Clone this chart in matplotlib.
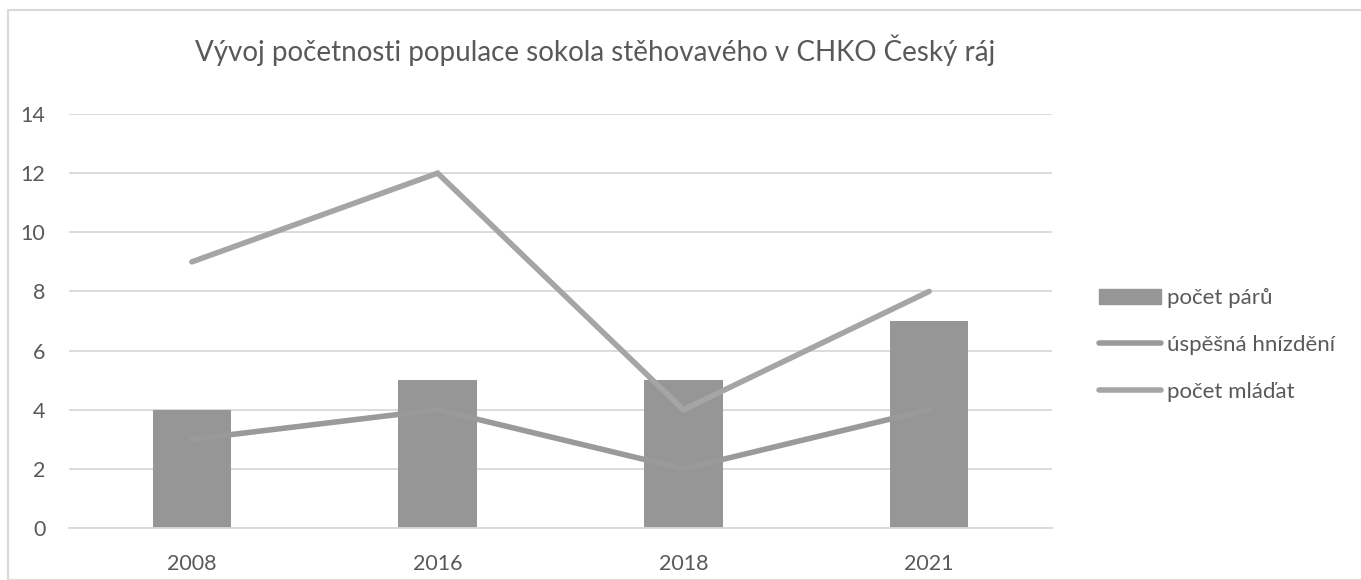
import matplotlib
matplotlib.use("Agg")
import matplotlib.pyplot as plt
from matplotlib.patches import Rectangle
from matplotlib.lines import Line2D
import numpy as np

plt.rcParams['font.family'] = ['Lato', 'DejaVu Sans']

categories = ["2008", "2016", "2018", "2021"]
pocet_paru = [4, 5, 5, 7]
uspesna_hnizdeni = [3, 4, 2, 4]
pocet_mladat = [9, 12, 4, 8]
yticks = [0, 2, 4, 6, 8, 10, 12, 14]

W, H = 1361, 580
fig = plt.figure(figsize=(W/100, H/100), dpi=100)
fig.patch.set_facecolor('white')
fig.patches.append(Rectangle((8/W, 0), 1.2, (H-10)/H, transform=fig.transFigure,
                             fill=False, edgecolor='#d9d9d9', linewidth=1.5))

ax = fig.add_axes([69/W, 1-528/H, (1052-69)/W, (528-114)/H])
x = np.arange(len(categories))
ax.bar(x, pocet_paru, width=0.32, color='#969696', zorder=2)
ax.plot(x, uspesna_hnizdeni, color='#9a9a9a', linewidth=4, solid_capstyle='round', solid_joinstyle='miter', zorder=3)
ax.plot(x, pocet_mladat, color='#a5a5a5', linewidth=4, solid_capstyle='round', solid_joinstyle='miter', zorder=3)

ax.set_xlim(-0.5, len(categories)-0.5)
ax.set_ylim(0, 14)
ax.set_yticks(yticks)
ax.set_xticks(x)
ax.set_xticklabels(categories)
ax.grid(axis='y', color='#d9d9d9', linewidth=1.3, zorder=0)
for s in ax.spines.values():
    s.set_visible(False)
ax.spines['bottom'].set_visible(True)
ax.spines['bottom'].set_color('#d9d9d9')
ax.spines['bottom'].set_linewidth(1.3)
ax.tick_params(length=0, labelsize=15.5, colors='#595959')
ax.tick_params(axis='y', pad=17)
ax.tick_params(axis='x', pad=19)

fig.text(595/W, 1-50/H, "Vývoj početnosti populace sokola stěhovavého v CHKO Český ráj",
         ha='center', va='center', fontsize=20, color='#595959')

handles = [Rectangle((0, 0), 1, 1, color='#969696'),
           Line2D([], [], color='#9a9a9a', linewidth=4, solid_capstyle='round'),
           Line2D([], [], color='#a5a5a5', linewidth=4, solid_capstyle='round')]
labels = ["počet párů", "úspěšná hnízdění", "počet mláďat"]
leg = fig.legend(handles, labels, loc='center left', bbox_to_anchor=(1079/W, 1-345/H),
                 frameon=False, fontsize=16, labelcolor='#595959', handlelength=2.8,
                 handleheight=0.65, labelspacing=1.2, handletextpad=0.27)

fig.savefig("out.png", dpi=100, facecolor='white')
